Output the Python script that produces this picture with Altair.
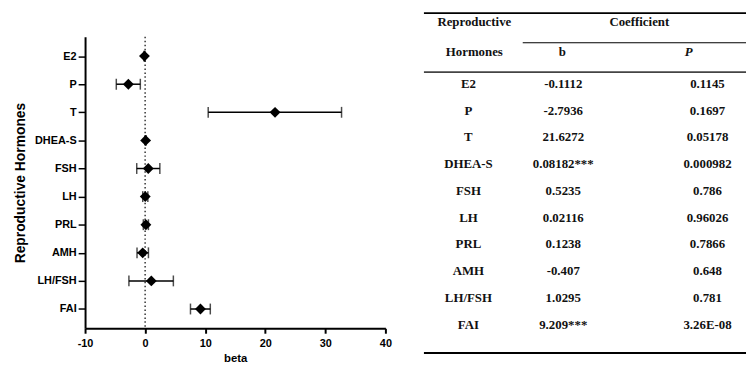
import altair as alt
import pandas as pd

# ---------------- data ----------------
hormones = ["E2", "P", "T", "DHEA-S", "FSH", "LH", "PRL", "AMH", "LH/FSH", "FAI"]
beta = [-0.1112, -2.7936, 21.6272, 0.08182, 0.5235, 0.02116, 0.1238, -0.407, 1.0295, 9.209]
ci_low = [-0.2, -4.8, 10.5, 0.0, -1.4, -0.4, -0.3, -1.35, -2.7, 7.55]
ci_high = [-0.02, -0.8, 32.7, 0.16, 2.45, 0.45, 0.55, 0.55, 4.7, 10.85]
b_text = ["-0.1112", "-2.7936", "21.6272", "0.08182***", "0.5235",
          "0.02116", "0.1238", "-0.407", "1.0295", "9.209***"]
p_text = ["0.1145", "0.1697", "0.05178", "0.000982", "0.786",
          "0.96026", "0.7866", "0.648", "0.781", "3.26E-08"]
x_ticks = [-10, -5, 0, 5, 10, 15, 20, 25, 30, 35, 40]
x_domain = [-10, 40]
zero_line = [0]
head_hormone = ["Reproductive", "Hormones"]
head_coef = "Coefficient"
head_b = "b"
head_p = "P"

df = pd.DataFrame({"hormone": hormones, "beta": beta, "lo": ci_low, "hi": ci_high,
                   "b": b_text, "p": p_text})

SANS = "Liberation Sans"
SERIF = "Liberation Serif"
INK = "black"

# ---------------- forest plot ----------------
xs = alt.Scale(domain=x_domain, nice=False, zero=False)
x_axis = alt.Axis(
    title="beta", values=x_ticks,
    labelExpr="datum.value % 10 === 0 ? '' + datum.value : ''",
    labelFlush=False,
    tickSize={"condition": {"test": "datum.value % 10 === 0", "value": 5}, "value": 3},
    labelFont=SANS, labelFontSize=11, labelFontWeight="bold", labelColor=INK,
    labelPadding=4, titleFont=SANS, titleFontSize=11.5, titleFontWeight="bold",
    titleColor=INK, titlePadding=5, domainColor=INK, domainWidth=2,
    tickColor=INK, tickWidth=2, grid=False,
)
ys = alt.Scale(type="point", domain=hormones, padding=0.686)
y_axis = alt.Axis(
    title="Reproductive Hormones", labelFont=SANS, labelFontSize=11,
    labelFontWeight="bold", labelColor=INK, labelPadding=2,
    titleFont=SANS, titleFontSize=14, titleFontWeight="bold", titleColor=INK,
    titlePadding=7, domainColor=INK, domainWidth=2, tickColor=INK,
    tickWidth=1.5, tickSize=7, grid=False,
)

base = alt.Chart(df)
zero = alt.Chart(pd.DataFrame({"z": zero_line})).mark_rule(
    color="#333", strokeWidth=1.5, strokeDash=[1.5, 2.5]
).encode(x=alt.X("z:Q", scale=xs, axis=x_axis))

bars = base.mark_rule(color=INK, strokeWidth=1.5).encode(
    x=alt.X("lo:Q", scale=xs, axis=x_axis), x2="hi:Q",
    y=alt.Y("hormone:N", scale=ys, axis=y_axis, sort=hormones),
)
cap_lo = base.mark_tick(color=INK, size=11, thickness=1.5).encode(
    x=alt.X("lo:Q", scale=xs), y=alt.Y("hormone:N", scale=ys, sort=hormones))
cap_hi = base.mark_tick(color=INK, size=11, thickness=1.5).encode(
    x=alt.X("hi:Q", scale=xs), y=alt.Y("hormone:N", scale=ys, sort=hormones))
pts = base.mark_point(shape="diamond", filled=True, size=121, color=INK, opacity=1).encode(
    x=alt.X("beta:Q", scale=xs), y=alt.Y("hormone:N", scale=ys, sort=hormones))

forest = alt.layer(zero, bars, cap_lo, cap_hi, pts).properties(width=304, height=295)

# ---------------- table ----------------
TW, TH = 326, 320
ty = alt.Y("hormone:N", scale=alt.Scale(type="point", domain=hormones, range=[47.7, 291.3],
                                        padding=0),
           axis=None, sort=hormones)
txt = dict(font=SERIF, fontSize=13, fontWeight="bold", color="#111", align="center",
           baseline="middle")
col_h = base.mark_text(**txt).encode(x=alt.value(45), y=ty, text="hormone:N")
col_b = base.mark_text(**txt).encode(x=alt.value(141), y=ty, text="b:N")
col_p = base.mark_text(**txt).encode(x=alt.value(287), y=ty, text="p:N")

one = pd.DataFrame({"t": [0]})


def head(text, x, y, style="normal"):
    return alt.Chart(one).mark_text(text=text, fontStyle=style, **txt).encode(
        x=alt.value(x), y=alt.value(y))


def hline(y, x0, x1, w, c=INK):
    return alt.Chart(one).mark_rule(color=c, strokeWidth=w).encode(
        x=alt.value(x0), x2=alt.value(x1), y=alt.value(y))


table = alt.layer(
    hline(-24, 0, TW, 2), hline(6, 100, TW, 1.2), hline(35.7, 0, TW, 1.6, "#444"),
    hline(TH, 0, TW, 2),
    head(head_hormone[0], 51, -14.5), head(head_hormone[1], 51, 15.5),
    head(head_coef, 218, -14.5), head(head_b, 140, 15.5), head(head_p, 268, 15.5, "italic"),
    col_h, col_b, col_p,
).properties(width=TW, height=TH)

chart = alt.hconcat(forest, table, spacing=39, bounds="flush").properties(
    padding={"left": 5, "top": 2, "right": 0, "bottom": 0}
).configure_view(stroke=None)

chart.save("out.html", embed_options={"renderer": "svg", "actions": False})
